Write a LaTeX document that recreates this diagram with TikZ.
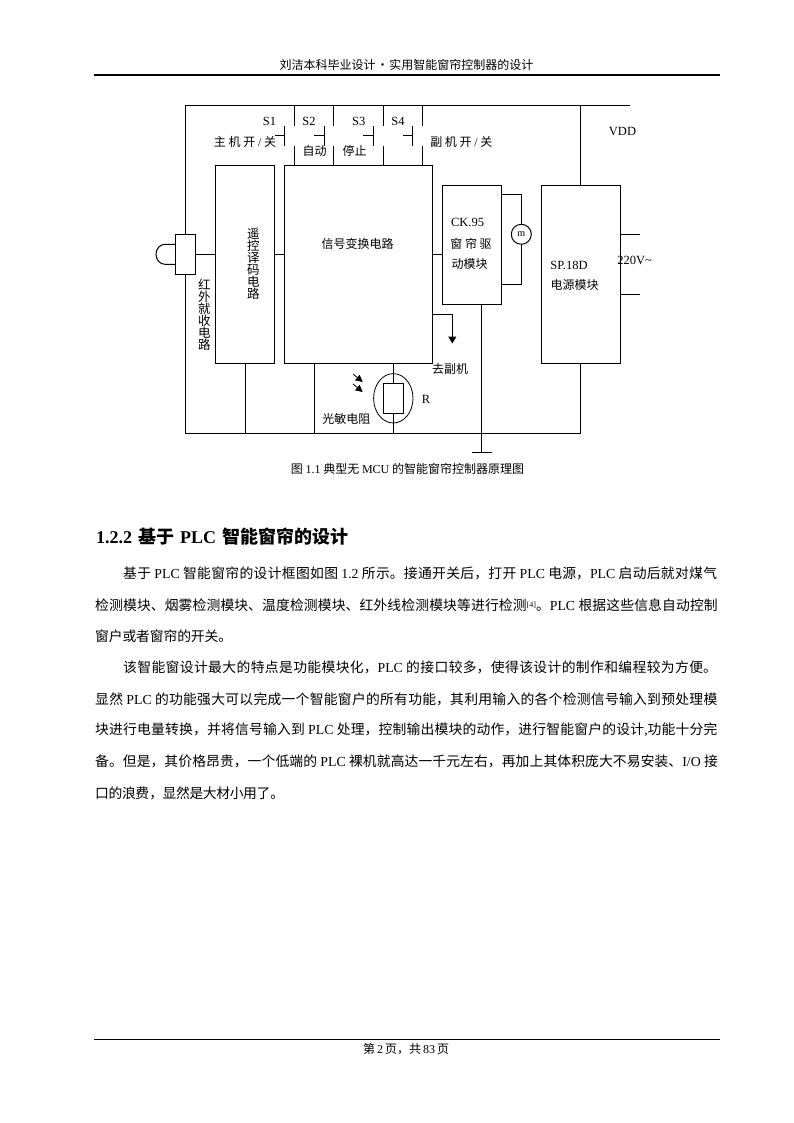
\documentclass[tikz,border=0pt]{standalone}
\usepackage{fontspec}
\usetikzlibrary{arrows.meta}
\setmainfont{Noto Sans CJK SC}
\newfontfamily\lat{Liberation Serif}
\XeTeXlinebreaklocale "zh"
\XeTeXlinebreakskip=0pt plus 6pt minus 1.5pt
\newcommand{\LL}[1]{{\lat #1}}
\newcommand{\cm}{\char"FF0C\relax}
\tikzset{
  wire/.style={line width=1pt,black},
  blockbox/.style={draw,line width=1pt,fill=none},
  lab/.style={inner sep=0pt,font=\fontsize{12}{12}\selectfont},
  latlab/.style={inner sep=0pt,font=\fontsize{12.5}{12}\selectfont\lat},
  stack/.style={inner sep=0pt,align=center,font=\fontsize{12.5}{12}\selectfont},
  photo/.style={line width=0.8pt,-{Triangle[length=7pt,width=7pt]}}
}
\newcommand{\bodyline}[4]{\node[inner sep=0pt,anchor=west,text width=#3pt] at (#1,#2) {\fontsize{13.8}{14}\selectfont\parindent=0pt\parfillskip=0pt\relax #4\par};}
\begin{document}
\begin{tikzpicture}[x=1pt,y=-1pt]
\useasboundingbox (0,0) rectangle (794,1123);
\fill[white] (0,0) rectangle (794,1123);
% header
\node[inner sep=0pt] (hdr) at (406.5,65) {\fontsize{12}{12}\selectfont 刘洁本科毕业设计\hspace{1pt}·\hspace{1pt}实用智能窗帘控制器的设计};
\coordinate (hl) at (94,75); \coordinate (hr) at (720,75);
\draw[line width=1.6pt] (hl) -- (hr);
% blocks
\node[blockbox,minimum width=59.4pt,minimum height=198pt,inner sep=0pt] (dec) at (245,264.2) {};
\node[blockbox,minimum width=148pt,minimum height=198pt,inner sep=0pt] (sig) at (358.3,264.2) {};
\node[blockbox,minimum width=59pt,minimum height=119pt,inner sep=0pt] (drv) at (471.8,244.8) {};
\node[blockbox,minimum width=78.6pt,minimum height=178pt,inner sep=0pt] (pow) at (581,274.3) {};
\node[blockbox,minimum width=20pt,minimum height=40pt,inner sep=0pt] (ir) at (185.7,254.3) {};
\node[circle,draw,line width=1pt,minimum size=20pt,inner sep=0pt] (mot) at (521.3,234.3) {\fontsize{10}{10}\selectfont\lat m};
\node[blockbox,minimum width=20pt,minimum height=30pt,inner sep=0pt] (res) at (393.3,398.3) {};
\coordinate (tl) at (185.7,105.5);
\coordinate (tr) at (630,105.5);
\coordinate (bl) at (185.7,433.3);
\coordinate (br) at (580.7,433.3);
\draw[wire] (ir.north) -- (tl) -- (tr);
\draw[wire] (ir.south) -- (bl) -- (br);
\draw[wire] (ir.east) -- (dec.west |- ir.east);
\draw[wire] (dec.east |- ir.east) -- (sig.west |- ir.east);
\draw[wire] (sig.east |- ir.east) -- (drv.west |- ir.east);
% infrared dome
\draw[wire] (ir.west |- 0,244.3) -- (165,244.3) arc[start angle=90,end angle=270,x radius=9pt,y radius=10pt] -- (ir.west |- 0,264.3);
% switches
\foreach \xa/\xb/\xc in {294.3/284.3/275,333.7/324.3/314.3,383.3/373.3/363.3,422.3/412.3/403.3}{
  \draw[wire] (\xa,105.5) -- (\xa,125.7);
  \draw[wire] (\xa,145.7) -- (\xa,165.2);
  \draw[wire] (\xb,125.7) -- (\xb,145.7);
  \draw[wire] (\xc,135.7) -- (\xb,135.7);
}
% power
\draw[wire] (580.7,105.5) -- (pow.north -| 580.7,0);
\draw[wire] (pow.south -| 580.7,0) -- (br);
\coordinate (pa) at (640,234.3); \coordinate (pb) at (640,294.3);
\draw[wire] (pow.east |- pa) -- (pa);
\draw[wire] (pow.east |- pb) -- (pb);
% motor
\draw[wire] (drv.east |- 0,194.3) -- (521.3,194.3) -- (mot.north);
\draw[wire] (mot.south) -- (521.3,284.3) -- (drv.east |- 0,284.3);
% ground
\coordinate (gnd) at (481.7,452.3);
\draw[wire] (drv.south -| gnd) -- (gnd);
\draw[wire] (472,452.3) -- (492,452.3);
% to slave
\draw[wire,-{Triangle[length=7pt,width=8pt]}] (sig.east |- 0,314.3) -- (452.3,314.3) -- (452.3,343.5);
% lower links
\draw[wire] (dec.south -| 245.3,0) -- (245.3,433.3);
\draw[wire] (sig.south -| 314.3,0) -- (314.3,433.3);
\draw[wire] (sig.south -| res.north) -- (res.north);
\draw[wire] (res.south) -- (393.3,433.3);
\draw[line width=0.8pt] (393.3,398.3) ellipse[x radius=19.7pt,y radius=24.7pt];
\draw[photo] (353,374) -- (362.7,382);
\draw[photo] (353,384) -- (362.7,392);
% labels
\node[latlab] (s1) at (269.5,121.7) {S1};
\node[latlab] (s2) at (309,121.7) {S2};
\node[latlab] (s3) at (358.7,121.7) {S3};
\node[latlab] (s4) at (398,121.7) {S4};
\node[lab] (m1) at (245,141.7) {主 机 开 {\lat /} 关};
\node[lab] (m2) at (461.3,141.7) {副 机 开 {\lat /} 关};
\node[lab] (au) at (314.5,151) {自动};
\node[lab] (st) at (354.7,151) {停止};
\node[lab] (sg) at (357.7,244) {信号变换电路};
\node[latlab] (vdd) at (622.5,131.7) {VDD};
\node[latlab] (ck) at (467.5,222.7) {CK.95};
\node[lab] (ck2) at (471,244) {窗 帘 驱};
\node[lab] (ck3) at (469.5,264) {动模块};
\node[latlab] (sp) at (569,265) {SP.18D};
\node[lab] (sp2) at (574.5,285) {电源模块};
\node[latlab] (v220) at (634.7,260.7) {220V\textasciitilde};
\node[lab] (sl) at (450,369.3) {去副机};
\node[latlab] (rr) at (426,399) {R};
\node[lab] (gm) at (346.3,419.3) {光敏电阻};
\node[stack] (yk) at (253.3,264) {遥\\控\\译\\码\\电\\路};
\node[stack] (hw) at (204.3,314.5) {红\\外\\就\\收\\电\\路};
\node[inner sep=0pt] (cap) at (407.5,469) {\fontsize{12}{12}\selectfont 图 {\lat 1.1} 典型无 {\lat MCU} 的智能窗帘控制器原理图};
% heading
\node[inner sep=0pt,anchor=west] (hd) at (96,537) {\fontsize{18}{18}\selectfont\bfseries {\lat\bfseries 1.2.2}\hspace{6pt}基于\hspace{6pt}{\lat\bfseries PLC}\hspace{6pt}智能窗帘的设计};
% body
\bodyline{123}{573}{595}{基于 \LL{PLC} 智能窗帘的设计框图如图 \LL{1.2} 所示。接通开关后\cm 打开 \LL{PLC} 电源\cm\LL{PLC} 启动后就对煤气}
\bodyline{95}{605}{623}{检测模块、烟雾检测模块、温度检测模块、红外线检测模块等进行检测{\lat\fontsize{8}{8}\selectfont\raisebox{3pt}{[4]}}。\LL{PLC} 根据这些信息自动控制}
\bodyline{95}{636}{137}{窗户或者窗帘的开关。}
\bodyline{123}{667}{595}{该智能窗设计最大的特点是功能模块化\cm\LL{PLC} 的接口较多\cm 使得该设计的制作和编程较为方便。}
\bodyline{95}{699}{623}{显然 \LL{PLC} 的功能强大可以完成一个智能窗户的所有功能\cm 其利用输入的各个检测信号输入到预处理模}
\bodyline{95}{730}{623}{块进行电量转换\cm 并将信号输入到 \LL{PLC} 处理\cm 控制输出模块的动作\cm 进行智能窗户的设计\LL{,}功能十分完}
\bodyline{95}{761.6}{623}{备。但是\cm 其价格昂贵\cm 一个低端的 \LL{PLC} 裸机就高达一千元左右\cm 再加上其体积庞大不易安装、\LL{I/O} 接}
\bodyline{95}{793}{189}{口的浪费\cm 显然是大材小用了。}
% footer
\coordinate (fl) at (94,1039); \coordinate (fr) at (720,1039);
\draw[line width=0.8pt] (fl) -- (fr);
\node[inner sep=0pt] (ftr) at (406,1049) {\fontsize{12}{12}\selectfont 第\hspace{2pt}{\lat 2}\hspace{2pt}页\cm 共\hspace{2pt}{\lat 83}\hspace{2pt}页};
\end{tikzpicture}
\end{document}
